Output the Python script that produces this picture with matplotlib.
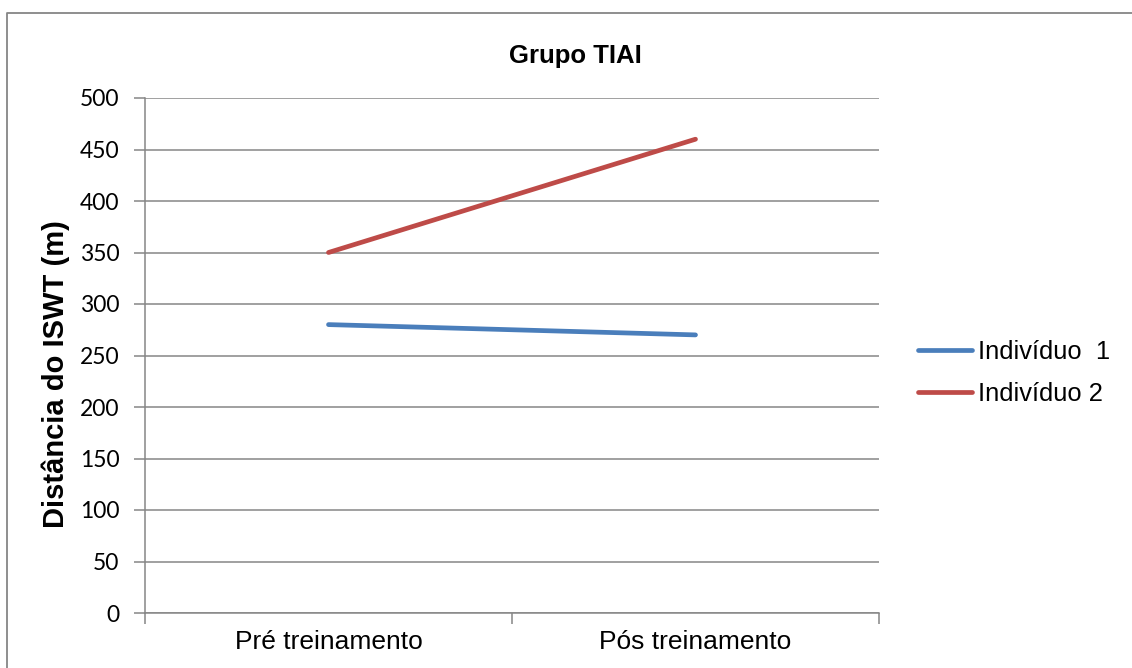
import matplotlib
matplotlib.use("Agg")
import matplotlib.pyplot as plt
from matplotlib.lines import Line2D
from matplotlib.ticker import FixedLocator

categories = ["Pré treinamento", "Pós treinamento"]
individuo1 = [280, 270]
individuo2 = [350, 460]
series_labels = ["Indivíduo  1", "Indivíduo 2"]
y_ticks = [0, 50, 100, 150, 200, 250, 300, 350, 400, 450, 500]

BLUE = "#4A7EBB"
RED = "#BE4B48"
GRAY = "#868686"

plt.rcParams['font.family'] = ['Liberation Sans', 'DejaVu Sans']

W, H = 1132, 668
fig = plt.figure(figsize=(W / 100, H / 100), dpi=100)
ax = fig.add_axes([145 / W, 1 - 613 / H, (879 - 145) / W, (613 - 98) / H])

x = list(range(len(categories)))
ax.plot(x, individuo1, color=BLUE, lw=3.4, solid_capstyle='round', label=series_labels[0])
ax.plot(x, individuo2, color=RED, lw=3.4, solid_capstyle='round', label=series_labels[1])

ax.set_xlim(-0.5, len(categories) - 0.5)
ax.set_ylim(0, 500)
ax.set_yticks(y_ticks)
ax.set_xticks(x)
ax.set_xticklabels(categories, fontsize=19)
ax.xaxis.set_minor_locator(FixedLocator([i - 0.5 for i in range(len(categories) + 1)]))
ax.tick_params(axis='x', which='major', length=0, pad=12.5)
ax.tick_params(axis='x', which='minor', length=8, width=1.1, color=GRAY, direction='out')
ax.tick_params(axis='y', length=8, width=1.1, color=GRAY, direction='out', pad=10.5)
for lbl in ax.get_yticklabels():
    lbl.set_fontfamily('Lato')
    lbl.set_fontsize(16.5)

ax.grid(axis='y', color=GRAY, lw=1.1)
ax.set_axisbelow(True)
for side in ('top', 'right'):
    ax.spines[side].set_visible(False)
for side in ('left', 'bottom'):
    ax.spines[side].set_color(GRAY)
    ax.spines[side].set_linewidth(1.1)

fig.text(575 / W, 1 - 56 / H, "Grupo TIAI", ha='center', va='center',
         fontsize=18.5, fontweight='bold')
fig.text(56 / W, 1 - 374 / H, "Distância do ISWT (m)", ha='center', va='center',
         rotation=90, fontsize=21, fontweight='bold')

fig.legend(loc='center left', bbox_to_anchor=(918 / W, 1 - 373 / H), frameon=False,
           fontsize=18.4, handlelength=2.1, handletextpad=0.24, labelspacing=0.72,
           borderpad=0, borderaxespad=0)

# outer frame: only the top and left edges fall inside the image
fig.add_artist(Line2D([7 / W, 7 / W, 1], [0, 1 - 13 / H, 1 - 13 / H],
                      transform=fig.transFigure, color=GRAY, lw=1.3))

fig.savefig("out.png", dpi=100)
